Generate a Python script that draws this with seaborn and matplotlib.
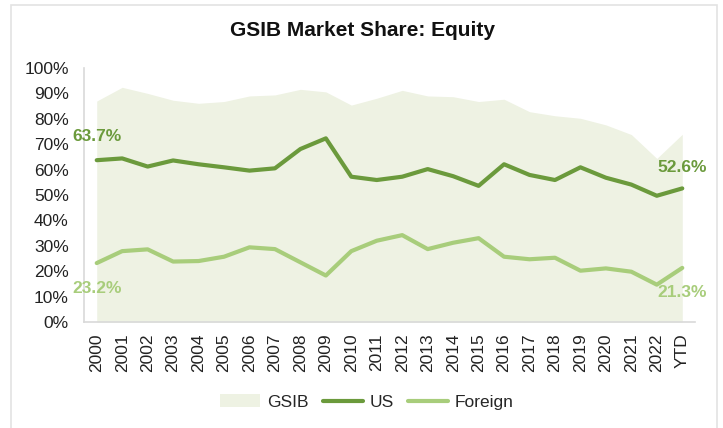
import numpy as np
import pandas as pd
import matplotlib.pyplot as plt
import seaborn as sns
from matplotlib.patches import Rectangle

# Values (percent)
years = ["2000", "2001", "2002", "2003", "2004", "2005", "2006", "2007", "2008",
         "2009", "2010", "2011", "2012", "2013", "2014", "2015", "2016", "2017",
         "2018", "2019", "2020", "2021", "2022", "YTD"]
gsib = [87.0, 92.4, 90.0, 87.3, 86.1, 86.8, 89.0, 89.4, 91.6, 90.6, 85.4, 88.1,
        91.2, 89.0, 88.7, 86.8, 87.7, 82.8, 81.2, 80.2, 77.6, 73.8, 64.4, 73.9]
us = [63.7, 64.4, 61.2, 63.6, 62.1, 60.9, 59.6, 60.5, 68.1, 72.3, 57.2, 55.9,
      57.2, 60.2, 57.4, 53.6, 62.1, 57.9, 55.9, 60.9, 56.8, 54.1, 49.7, 52.6]
foreign = [23.2, 27.9, 28.6, 23.8, 24.0, 25.7, 29.4, 28.7, 23.5, 18.3, 27.9, 32.0,
           34.2, 28.7, 31.2, 33.0, 25.7, 24.7, 25.3, 20.2, 21.1, 19.8, 14.7, 21.3]

df = pd.DataFrame({"year": years, "GSIB": gsib, "US": us, "Foreign": foreign})
df["pos"] = np.arange(len(df))

c_us = "#6b9a3c"
c_foreign = "#a8cd7b"
c_area = "#eef2e3"
c_axis = "#d9d9d9"

sns.set_style("white")
plt.rcParams["font.family"] = ["Liberation Sans", "DejaVu Sans"]

fig = plt.figure(figsize=(7.23, 4.28), dpi=100)
ax = fig.add_axes([84 / 723, 1 - 322 / 428, (695 - 84) / 723, (322 - 68) / 428])

# light frame around the chart
fig.patches.append(Rectangle((11 / 723, -0.05), (717 - 11) / 723, 1.05 - 5 / 428,
                             transform=fig.transFigure, fill=False,
                             edgecolor="#e3e3e3", linewidth=1.2))

ax.fill_between(df["pos"], 0, df["GSIB"], color=c_area, linewidth=0, label="GSIB")
sns.lineplot(data=df, x="pos", y="US", color=c_us, linewidth=3, label="US", ax=ax)
sns.lineplot(data=df, x="pos", y="Foreign", color=c_foreign, linewidth=3,
             label="Foreign", ax=ax)

# end-point labels
first, last = 0, len(df) - 1
ann = dict(ha="center", va="center", fontsize=12.5, fontweight="bold",
           textcoords="offset points")
ax.annotate(f"{us[first]:.1f}%", (first, us[first]), xytext=(0, 17), color=c_us, **ann)
ax.annotate(f"{foreign[first]:.1f}%", (first, foreign[first]), xytext=(0, -18),
            color=c_foreign, **ann)
ax.annotate(f"{us[last]:.1f}%", (last, us[last]), xytext=(0, 15), color=c_us, **ann)
ax.annotate(f"{foreign[last]:.1f}%", (last, foreign[last]), xytext=(0, -18),
            color=c_foreign, **ann)

ax.set_xlim(-0.5, len(df) - 0.5)
ax.set_ylim(0, 100)
ax.set_xticks(df["pos"])
ax.set_xticklabels(df["year"], rotation=90)
ax.set_yticks(range(0, 101, 10))
ax.set_yticklabels([f"{v}%" for v in range(0, 101, 10)])
ax.tick_params(axis="both", length=0, labelsize=12.5, labelcolor="#222222")
ax.tick_params(axis="y", pad=11)
ax.tick_params(axis="x", pad=8)
ax.set_xlabel("")
ax.set_ylabel("")

for side in ["top", "right"]:
    ax.spines[side].set_visible(False)
for side in ["left", "bottom"]:
    ax.spines[side].set_color(c_axis)
    ax.spines[side].set_linewidth(1.2)

handles, labels = ax.get_legend_handles_labels()
if ax.get_legend() is not None:
    ax.get_legend().remove()
fig.legend(handles, labels, loc="center", bbox_to_anchor=(367 / 723, 1 - 402 / 428),
           ncol=3, frameon=False, fontsize=12.5, handlelength=2.3,
           handletextpad=0.4, columnspacing=0.8)

fig.text(363 / 723, 1 - 31 / 428, "GSIB Market Share: Equity", ha="center",
         va="center", fontsize=15, fontweight="bold", color="#111111")

fig.savefig("out.png", dpi=100)
